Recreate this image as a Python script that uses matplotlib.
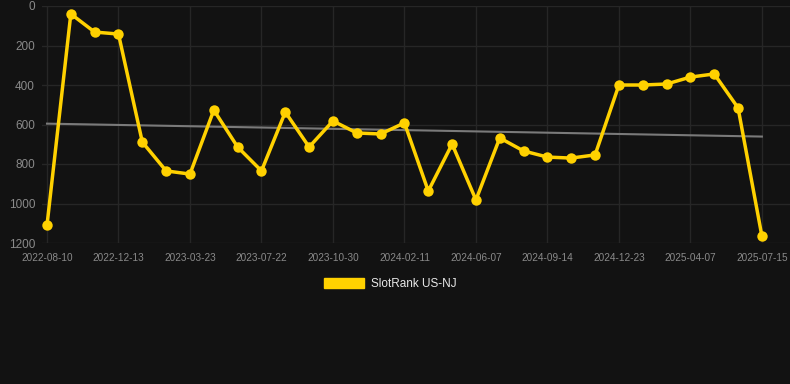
import matplotlib

matplotlib.use("Agg")
import matplotlib.pyplot as plt
import numpy as np
from matplotlib.patches import Patch

# rank values, one per observation (evenly spaced on the x axis)
ranks = [
    1110, 40, 132, 142, 689, 835, 851, 527, 714, 835,
    537, 714, 582, 643, 648, 592, 937, 699, 982, 668,
    734, 765, 770, 754, 400, 400, 395, 360, 344, 516,
    1165,
]
tick_labels = [
    "2022-08-10", "2022-12-13", "2023-03-23", "2023-07-22", "2023-10-30",
    "2024-02-11", "2024-06-07", "2024-09-14", "2024-12-23", "2025-04-07",
    "2025-07-15",
]
tick_step = 3
series_name = "SlotRank US-NJ"

BG = "#121212"
GRID = "#262626"
TEXT = "#8a8a8a"
YELLOW = "#FFD100"

plt.rcParams["font.family"] = ["Liberation Sans", "DejaVu Sans"]

W, H = 790, 384
fig = plt.figure(figsize=(W / 100, H / 100), dpi=100, facecolor=BG)
ax = fig.add_axes([42 / W, 1 - 243 / H, (790 - 42) / W, (243 - 6) / H])
ax.set_facecolor(BG)

x = np.arange(len(ranks))
y = np.array(ranks, dtype=float)

# linear trend of the series
slope, intercept = np.polyfit(x, y, 1)
ax.plot(x, slope * x + intercept, color="#7a7a7a", linewidth=1.5, zorder=2)

ax.plot(x, y, color=YELLOW, linewidth=2.5, marker="o", markersize=7.5,
        markeredgewidth=0, zorder=3)

ax.set_ylim(1200, 0)
ax.set_yticks([0, 200, 400, 600, 800, 1000, 1200])
ax.set_xlim(-5 / 23.83, (790 - 47) / 23.83)
ax.set_xticks(x[::tick_step])
ax.set_xticklabels(tick_labels)

ax.grid(True, color=GRID, linewidth=1)
ax.set_axisbelow(True)
for spine in ax.spines.values():
    spine.set_visible(False)
ax.tick_params(axis="both", length=0, colors=TEXT)
ax.tick_params(axis="y", labelsize=8.5, pad=5)
ax.tick_params(axis="x", labelsize=7.2, pad=7)

fig.legend(
    handles=[Patch(facecolor=YELLOW, edgecolor=YELLOW, label=series_name)],
    loc="center", bbox_to_anchor=(390 / W, 1 - 284 / H),
    frameon=False, fontsize=8.5, labelcolor="#e8e8e8",
    handlelength=3.4, handleheight=0.85, handletextpad=0.6,
)

fig.savefig("out.png", dpi=100, facecolor=BG)
